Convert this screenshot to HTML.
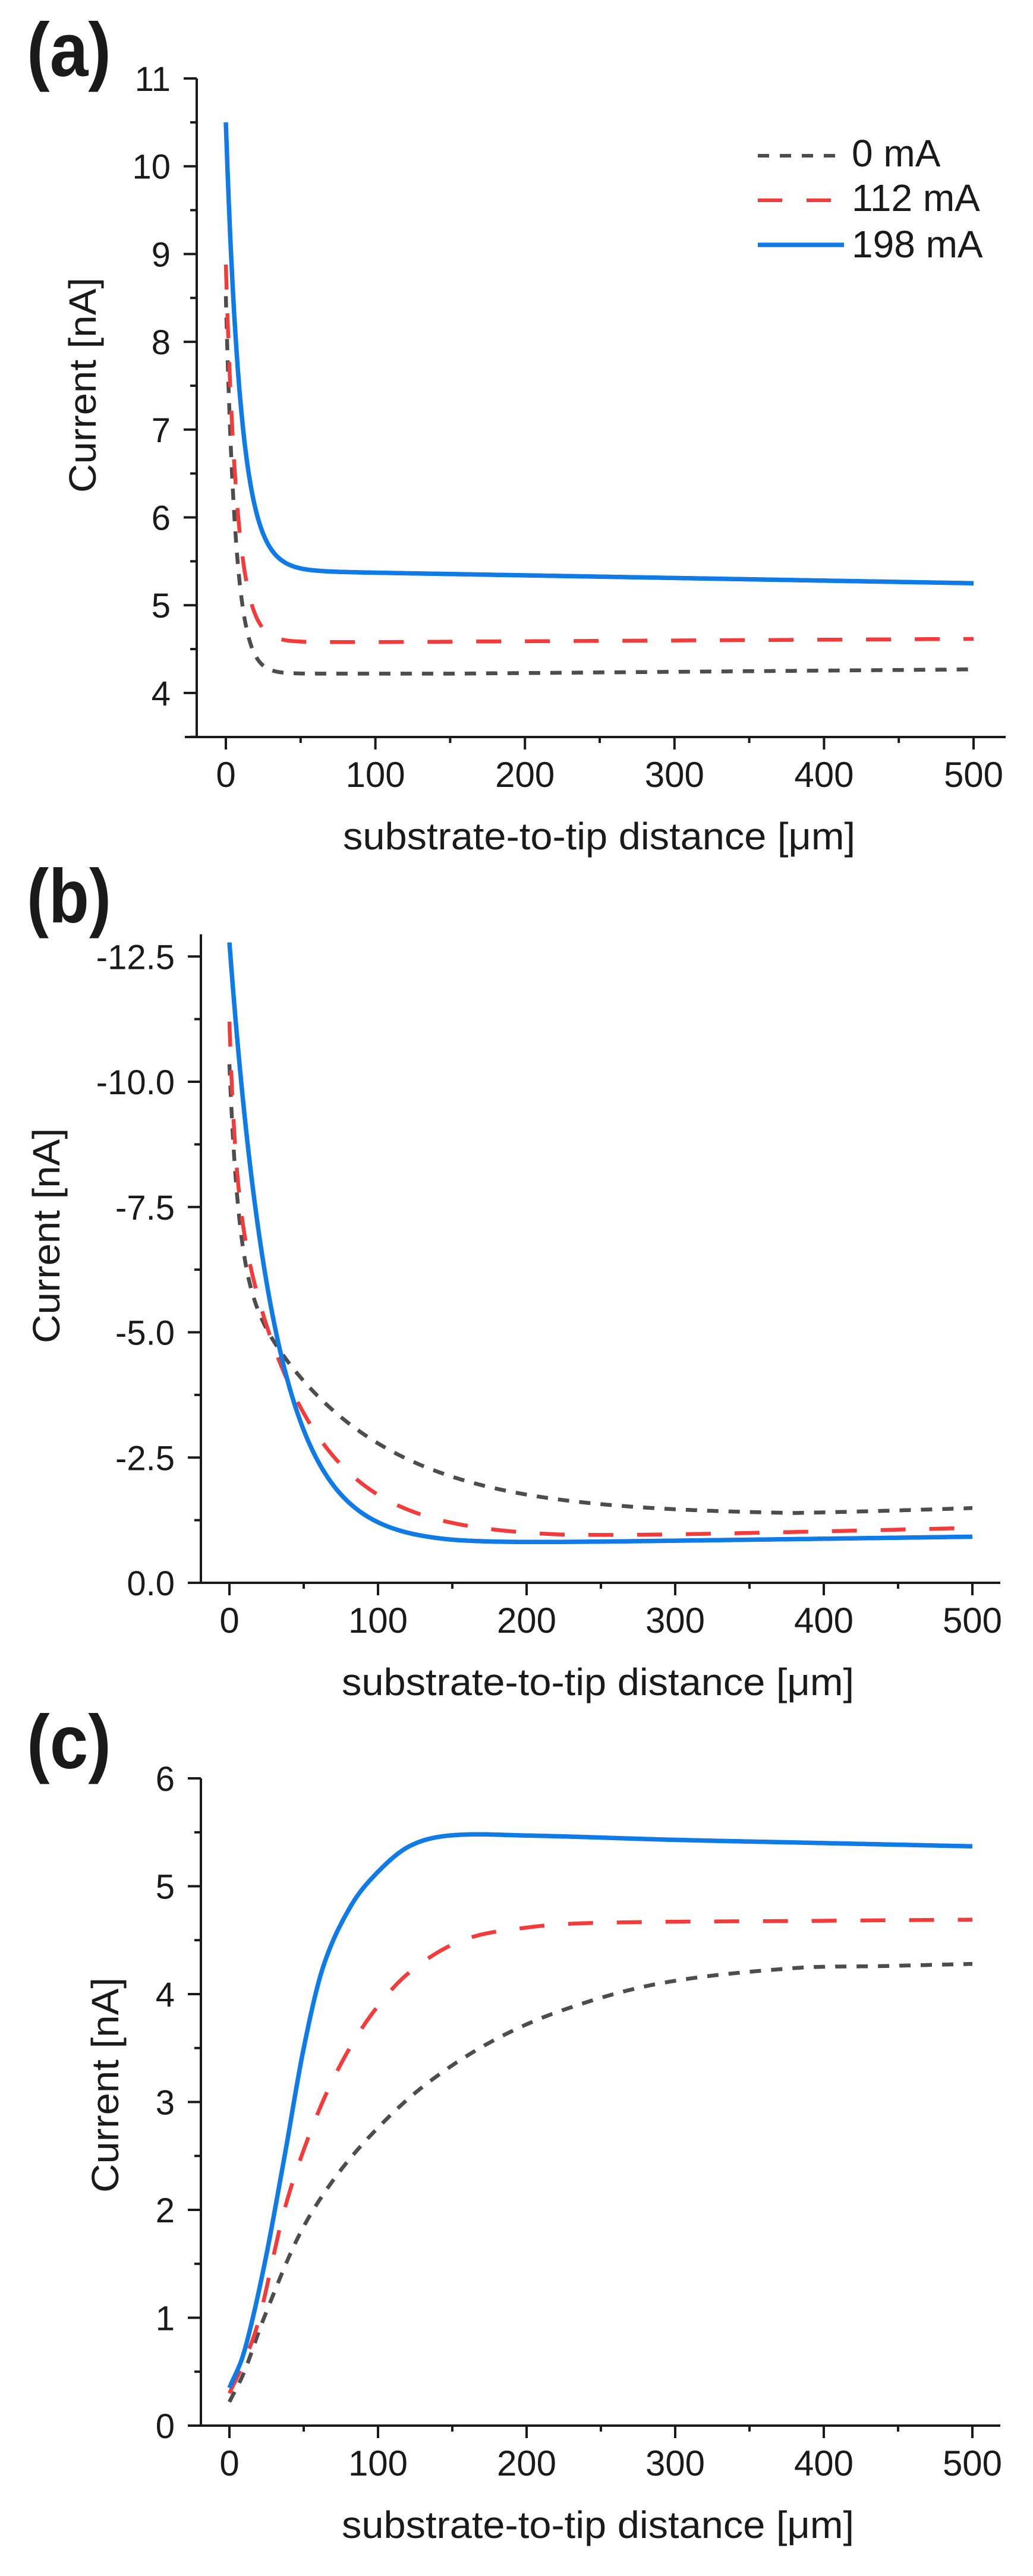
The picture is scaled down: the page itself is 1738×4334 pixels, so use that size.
<!DOCTYPE html>
<html><head><meta charset="utf-8">
<style>
html,body{margin:0;padding:0;background:#fff;}
svg{display:block;}
text{font-family:"Liberation Sans",Arial,sans-serif;fill:#1a1a1a;}
</style></head>
<body>
<svg id="s" width="1738" height="4334" viewBox="0 0 1738 4334" xmlns="http://www.w3.org/2000/svg">
<rect width="1738" height="4334" fill="#fff"/>
<g id="g"></g>
</svg>
<script>
var NS="http://www.w3.org/2000/svg",G=document.getElementById('g');
function el(t,a,txt){var e=document.createElementNS(NS,t);for(var k in a)e.setAttribute(k,a[k]);if(txt!=null)e.textContent=txt;G.appendChild(e);return e;}
function line(x1,y1,x2,y2,w){el('line',{x1:x1,y1:y1,x2:x2,y2:y2,stroke:'#1a1a1a','stroke-width':w||4});}
var GRAY='#4d4d4d',RED='#f43b3b',BLUE='#0f7be6';
var STY={g:{c:GRAY,w:6.5,d:'19 17'},r:{c:RED,w:6.5,d:'42 40'},b:{c:BLUE,w:7.5,d:null}};
// Catmull-Rom interpolation through control points
function interp(p,x){
 if(x<=p[0][0])return p[0][1];
 var n=p.length;if(x>=p[n-1][0])return p[n-1][1];
 var i=1;while(x>p[i][0])i++;
 var a=p[i-1],b=p[i];var t=(x-a[0])/(b[0]-a[0]);var h=b[0]-a[0];
 function slope(k){if(k<=0)return (p[1][1]-p[0][1])/(p[1][0]-p[0][0]);if(k>=n-1)return (p[n-1][1]-p[n-2][1])/(p[n-1][0]-p[n-2][0]);return (p[k+1][1]-p[k-1][1])/(p[k+1][0]-p[k-1][0]);}
 var m0=slope(i-1)*h,m1=slope(i)*h;var t2=t*t,t3=t2*t;
 return (2*t3-3*t2+1)*a[1]+(t3-2*t2+t)*m0+(-2*t3+3*t2)*b[1]+(t3-t2)*m1;}
function series(P,f,s){var d='';var xs=[];for(var x=0;x<=3;x+=0.25)xs.push(x);for(var x=3.5;x<=500;x+=0.5)xs.push(x);
 xs.forEach(function(x,i){var v=f(x);var px=P.x0+x*P.kx,py=P.yv(v);d+=(i?'L':'M')+px.toFixed(1)+' '+py.toFixed(1);});
 var a={d:d,fill:'none',stroke:STY[s].c,'stroke-width':STY[s].w,'stroke-linejoin':'round'};if(STY[s].d)a['stroke-dasharray']=STY[s].d;el('path',a);}
function panel(P){
 line(P.sx,P.top,P.sx,P.ax+2,4);
 line(P.sx-20,P.ax,P.xr,P.ax,4);
 P.yt.forEach(function(t){var y=P.yv(t[0]);line(P.sx-22,y,P.sx,y,4);el('text',{x:P.sx-44,y:y+21,'font-size':58,'text-anchor':'end'},t[1]);});
 P.ym.forEach(function(v){var y=P.yv(v);line(P.sx-11,y,P.sx,y,4);});
 for(var i=0;i<=5;i++){var x=P.x0+i*100*P.kx;line(x,P.ax,x,P.ax+21,4);el('text',{x:x,y:P.ax+84,'font-size':60,'text-anchor':'middle'},String(i*100));}
 for(var i=0;i<5;i++){var x=P.x0+(i*100+50)*P.kx;line(x,P.ax,x,P.ax+10,4);}
 el('text',{x:P.tx,y:P.ax+189,'font-size':64,'text-anchor':'middle',textLength:862,lengthAdjust:'spacingAndGlyphs'},'substrate-to-tip distance [\u03bcm]');
 el('text',{x:0,y:0,'font-size':64,'text-anchor':'middle',transform:'translate('+(P.ylx+22)+','+P.yly+') rotate(-90)',textLength:362,lengthAdjust:'spacingAndGlyphs'},'Current [nA]');
 el('text',{x:45,y:P.lb,'font-size':128,'font-weight':'bold',textLength:142,lengthAdjust:'spacingAndGlyphs'},P.lab);
}
// Panel a
var A={sx:331,top:132,ax:1240,xr:1692,x0:380,kx:(1638-380)/500,tx:1008,ylx:139,yly:648,lb:128,lab:'(a)'};
A.yv=function(v){return 132+(11-v)*147.7;};
A.yt=[];for(var v=4;v<=11;v++)A.yt.push([v,String(v)]);
A.ym=[];for(var v=3.5;v<11;v+=1)A.ym.push(v);
panel(A);
series(A,function(x){return 4.22+4.3*Math.exp(-x/6.5)+0.00014*Math.max(0,x-150);},'g');
series(A,function(x){return 4.58+4.3*Math.exp(-x/7.5)+0.00009*Math.max(0,x-100);},'r');
series(A,function(x){return 5.4+5.1*Math.exp(-x/10)-0.0003*x;},'b');
el('line',{x1:1275,y1:262,x2:1420,y2:262,stroke:GRAY,'stroke-width':6,'stroke-dasharray':'19 18'});
el('line',{x1:1275,y1:337,x2:1420,y2:337,stroke:RED,'stroke-width':6,'stroke-dasharray':'41 41'});
el('line',{x1:1275,y1:412,x2:1420,y2:412,stroke:BLUE,'stroke-width':7.5});
el('text',{x:1433,y:280,'font-size':64},'0 mA');
el('text',{x:1433,y:355,'font-size':64},'112 mA');
el('text',{x:1433,y:433,'font-size':64},'198 mA');
// Panel b
var B={sx:338,top:1572,ax:2663,xr:1683,x0:386,kx:2.5,tx:1006,ylx:78,yly:2079,lb:1552,lab:'(b)'};
B.yv=function(v){return 2663-v*84.3;};
B.yt=[[12.5,'-12.5'],[10,'-10.0'],[7.5,'-7.5'],[5,'-5.0'],[2.5,'-2.5'],[0,'0.0']];
B.ym=[11.25,8.75,6.25,3.75,1.25];
panel(B);
series(B,function(x){return 1.35+5*Math.exp(-x/80)+4*Math.exp(-x/6)+0.0011*Math.max(0,x-380);},'g');
series(B,function(x){return 0.9+7.2*Math.exp(-x/47)+3.1*Math.exp(-x/4)+0.0007*Math.max(0,x-220);},'r');
series(B,function(x){return 0.78+12*Math.exp(-x/30)+0.0004*Math.max(0,x-150);},'b');
// Panel c
var C={sx:338,top:2992,ax:4081,xr:1683,x0:386,kx:2.5,tx:1006,ylx:177,yly:3508,lb:2975,lab:'(c)'};
C.yv=function(v){return 4081-v*181.5;};
C.yt=[];for(var v=0;v<=6;v++)C.yt.push([v,String(v)]);
C.ym=[0.5,1.5,2.5,3.5,4.5,5.5];
panel(C);
var cg=[[0,0.22],[10,0.5],[23,0.99],[46,1.74],[68,2.24],[95,2.69],[130,3.14],[175,3.55],[224,3.85],[290,4.1],[379,4.24],[440,4.26],[500,4.28]];
var cr=[[0,0.3],[10,0.6],[20,0.99],[37,2.0],[55,2.74],[73,3.3],[95,3.8],[121,4.2],[157,4.5],[202,4.62],[246,4.66],[400,4.68],[500,4.69]];
var cb=[[0,0.35],[10,0.69],[23.5,1.49],[37,2.49],[50,3.5],[63,4.25],[81,4.8],[99,5.12],[121,5.37],[148,5.47],[200,5.47],[300,5.43],[400,5.4],[500,5.37]];
series(C,function(x){return interp(cg,x);},'g');
series(C,function(x){return interp(cr,x);},'r');
series(C,function(x){return interp(cb,x);},'b');
</script>
</body></html>
